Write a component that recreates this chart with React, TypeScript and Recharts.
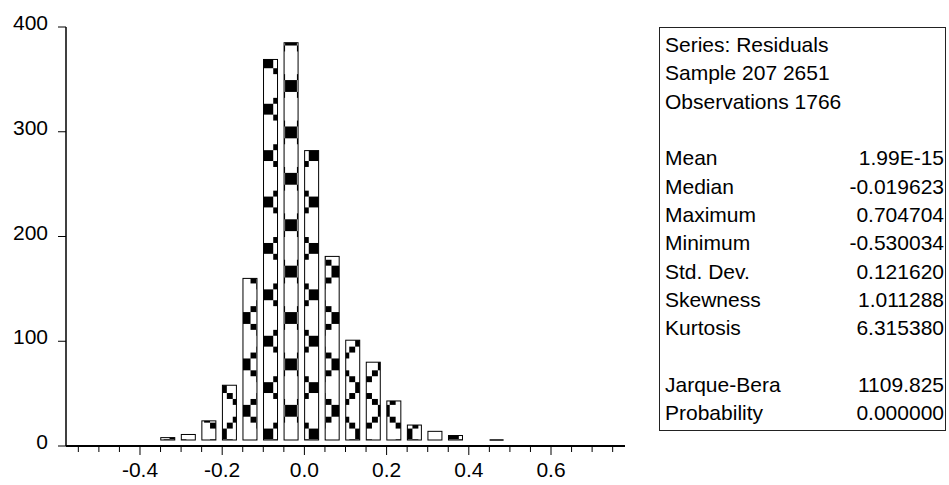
import React from 'react';
import { BarChart, Bar, XAxis, YAxis } from 'recharts';

// histogram bins (left edge of each 0.05 bin) and counts
const binStarts = [-0.35, -0.3, -0.25, -0.2, -0.15, -0.1, -0.05, 0.0, 0.05, 0.1, 0.15, 0.2, 0.25, 0.3, 0.35, 0.45];
const counts = [8, 11, 24, 58, 160, 369, 385, 282, 181, 101, 80, 43, 20, 14, 10, 4];

const xTicks = [
  -0.55, -0.5, -0.45, -0.4, -0.35, -0.3, -0.25, -0.2, -0.15, -0.1, -0.05, 0.0, 0.05,
  0.1, 0.15, 0.2, 0.25, 0.3, 0.35, 0.4, 0.45, 0.5, 0.55, 0.6, 0.65, 0.7, 0.75,
];
const xLabels = [-0.4, -0.2, 0.0, 0.2, 0.4, 0.6];
const yTicks = [0, 100, 200, 300, 400];

const headerLines = ['Series: Residuals', 'Sample 207 2651', 'Observations 1766'];
const statNames = ['Mean', 'Median', 'Maximum', 'Minimum', 'Std. Dev.', 'Skewness', 'Kurtosis'];
const statValues = ['1.99E-15', '-0.019623', '0.704704', '-0.530034', '0.121620', '1.011288', '6.315380'];
const testNames = ['Jarque-Bera', 'Probability'];
const testValues = ['1109.825', '0.000000'];

const BIN = 0.05;
const BAR_FRAC = 0.73; // bar covers the left part of each bin
const BASE_GAP = 6; // bars stop a few px above the axis
const FONT = '"Liberation Sans", Arial, sans-serif';
const TILE = 46.4;
const CELL = TILE / 8;

const chartData = binStarts.map((lo, i) => ({ x: lo + (BIN * BAR_FRAC) / 2, count: counts[i] }));

const HistBar = (props: any) => {
  const { x, y, width, height } = props;
  const h = height - BASE_GAP;
  if (h <= 1) {
    const yy = y + height - BASE_GAP;
    return <line x1={x} x2={x + width} y1={yy} y2={yy} stroke="#000" strokeWidth={1.5} />;
  }
  return <rect x={x} y={y} width={width} height={h} fill="url(#evPattern)" stroke="#000" strokeWidth={1} />;
};

const XTick = (props: any) => {
  const { x, y, payload } = props;
  const v = payload.value;
  const major = xLabels.some((l) => Math.abs(l - v) < 1e-6);
  return (
    <g>
      <line x1={x} x2={x} y1={y} y2={y + (major ? 9 : 6)} stroke="#000" />
      {major && (
        <text x={x} y={y + 31} textAnchor="middle" fontSize={21} fontFamily={FONT} fill="#000">
          {v.toFixed(1)}
        </text>
      )}
    </g>
  );
};

const YTick = (props: any) => {
  const { x, y, payload } = props;
  return (
    <g>
      <line x1={x - 8} x2={x} y1={y} y2={y} stroke="#000" />
      <text x={x - 18} y={y + 3} textAnchor="end" fontSize={21} fontFamily={FONT} fill="#000">
        {payload.value}
      </text>
    </g>
  );
};

const cells: Array<[number, number]> = [];
for (let i = 0; i < 8; i++) {
  cells.push([i, i]);
  if (7 - i !== i) cells.push([i, 7 - i]);
}

const Row = ({ left, right }: { left: string; right?: string }) => (
  <div style={{ display: 'flex', justifyContent: 'space-between', height: 28.33, whiteSpace: 'pre' }}>
    <span>{left}</span>
    <span>{right}</span>
  </div>
);

export default function App() {
  return (
    <div style={{ position: 'absolute', left: 0, top: 0, width: 949, height: 485, background: '#fff' }}>
      <BarChart
        width={949}
        height={485}
        data={chartData}
        margin={{ top: 27, right: 324, bottom: 0, left: 0 }}
        barSize={14}
      >
        <defs>
          <pattern id="evPattern" patternUnits="userSpaceOnUse" x={291} y={86} width={TILE} height={TILE}>
            <rect x={0} y={0} width={TILE} height={TILE} fill="#fff" />
            {cells.map(([r, c]) => (
              <rect
                key={`${r}-${c}`}
                x={c * CELL}
                y={r * CELL}
                width={CELL}
                height={CELL}
                fill="#000"
                shapeRendering="crispEdges"
              />
            ))}
          </pattern>
        </defs>
        <XAxis
          dataKey="x"
          type="number"
          domain={[-0.58, 0.78]}
          allowDataOverflow
          ticks={xTicks}
          interval={0}
          height={39}
          tickSize={0}
          tickMargin={0}
          tick={<XTick />}
          tickLine={false}
          axisLine={{ stroke: '#000', strokeWidth: 2 }}
        />
        <XAxis
          xAxisId="top"
          orientation="top"
          dataKey="x"
          type="number"
          domain={[-0.58, 0.78]}
          allowDataOverflow
          height={0}
          tick={false}
          tickLine={false}
          axisLine={{ stroke: '#222', strokeWidth: 2 }}
        />
        <YAxis
          domain={[0, 400]}
          ticks={yTicks}
          interval={0}
          width={66}
          tickSize={0}
          tickMargin={0}
          tick={<YTick />}
          tickLine={false}
          axisLine={{ stroke: '#000', strokeWidth: 1.5 }}
        />
        <YAxis
          yAxisId="right"
          orientation="right"
          domain={[0, 400]}
          width={0}
          tick={false}
          tickLine={false}
          axisLine={{ stroke: '#222', strokeWidth: 2 }}
        />
        <Bar dataKey="count" shape={<HistBar />} isAnimationActive={false} />
      </BarChart>

      <div
        style={{
          position: 'absolute',
          left: 659,
          top: 27,
          width: 287,
          height: 404,
          boxSizing: 'border-box',
          border: '1px solid #222',
          padding: '3px 1px 0 5px',
          fontFamily: FONT,
          fontSize: 21,
          lineHeight: '28.33px',
          color: '#000',
        }}
      >
        {headerLines.map((t) => (
          <Row key={t} left={t} />
        ))}
        <Row left="" />
        {statNames.map((n, i) => (
          <Row key={n} left={n} right={statValues[i]} />
        ))}
        <Row left="" />
        {testNames.map((n, i) => (
          <Row key={n} left={n} right={testValues[i]} />
        ))}
      </div>
    </div>
  );
}
